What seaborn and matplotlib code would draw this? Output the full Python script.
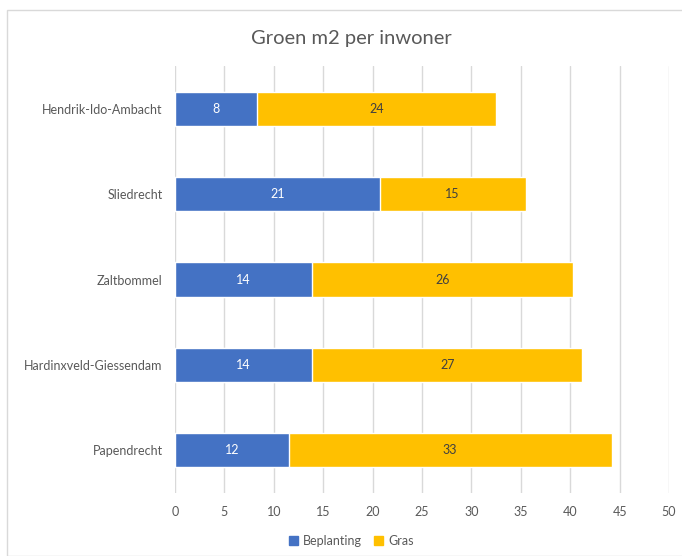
import seaborn as sns
import matplotlib.pyplot as plt
import matplotlib.patches as mpatches
import pandas as pd

gemeenten = ["Hendrik-Ido-Ambacht", "Sliedrecht", "Zaltbommel",
             "Hardinxveld-Giessendam", "Papendrecht"]
beplanting = [8.3, 20.7, 13.9, 13.9, 11.5]
gras = [24.2, 14.8, 26.4, 27.3, 32.7]

blue = "#4472C4"
gold = "#FFC000"
grey_txt = "#595959"

df = pd.DataFrame({"gemeente": gemeenten, "Beplanting": beplanting, "Gras": gras})
df["totaal"] = df["Beplanting"] + df["Gras"]

sns.set_style("white")
plt.rcParams["font.family"] = ["Lato", "DejaVu Sans"]

fig = plt.figure(figsize=(6.82, 5.56), dpi=100)
ax = fig.add_axes([0.2566, 0.1133, 0.7244, 0.768])

# totals in gold first, beplanting on top in blue
sns.barplot(data=df, y="gemeente", x="totaal", color=gold, width=0.4,
            orient="h", ax=ax, saturation=1, zorder=3)
sns.barplot(data=df, y="gemeente", x="Beplanting", color=blue, width=0.4,
            orient="h", ax=ax, saturation=1, zorder=4)

# labels centred in each segment
for i, (b, g) in enumerate(zip(beplanting, gras)):
    ax.text(b / 2, i, f"{b:.0f}", ha="center", va="center", color="white",
            fontsize=9, zorder=5)
    ax.text(b + g / 2, i, f"{g:.0f}", ha="center", va="center", color="#404040",
            fontsize=9, zorder=5)

ax.set_xlim(0, 50)
ax.set_xticks(range(0, 51, 5))
ax.set_ylim(4.5, -0.5)
ax.set_xlabel("")
ax.set_ylabel("")
ax.grid(axis="x", color="#D9D9D9", linewidth=1, zorder=0)
ax.grid(axis="y", visible=False)
for s in ax.spines.values():
    s.set_visible(False)
ax.tick_params(axis="both", length=0, labelsize=9, colors=grey_txt)
ax.tick_params(axis="x", pad=9)
ax.tick_params(axis="y", pad=9)

fig.text(0.515, 0.93, "Groen m2 per inwoner", ha="center", va="center",
         fontsize=14.5, color=grey_txt)

handles = [mpatches.Patch(color=blue, label="Beplanting"),
           mpatches.Patch(color=gold, label="Gras")]
fig.legend(handles=handles, loc="center", bbox_to_anchor=(0.515, 0.027), ncol=2,
           frameon=False, fontsize=9, handlelength=0.7, handleheight=0.7,
           handletextpad=0.4, columnspacing=1.0, labelcolor=grey_txt)

# light frame round the chart
fig.patches.append(mpatches.Rectangle((0.010, 0.0), 1.2, 0.982, transform=fig.transFigure,
                                      fill=False, edgecolor="#D9D9D9", linewidth=1))

fig.savefig("out.png", dpi=100)
